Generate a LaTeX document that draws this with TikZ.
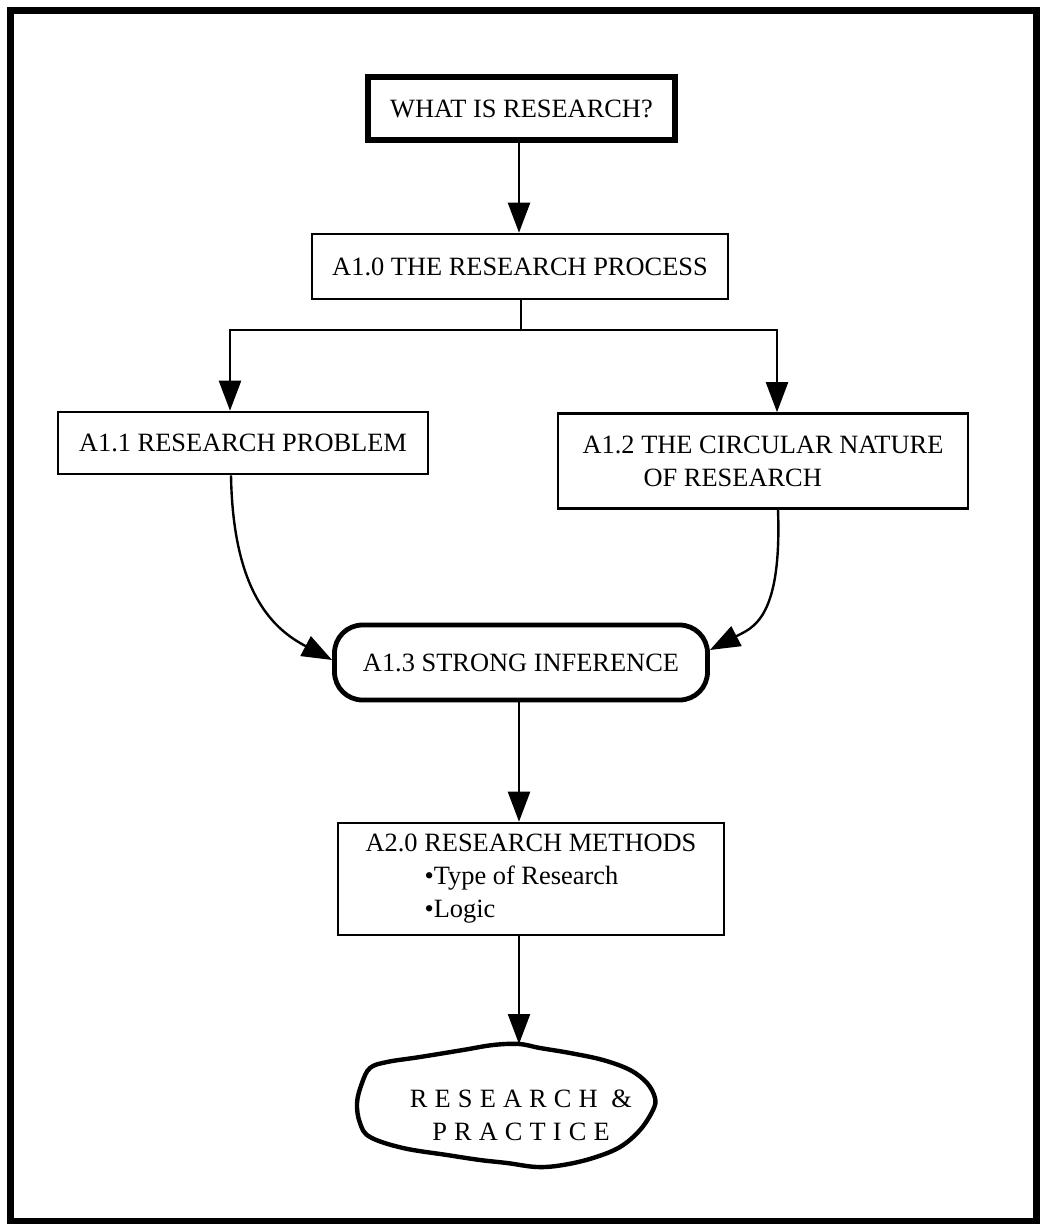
\documentclass[tikz,border=0pt]{standalone}
\usepackage{fontspec}
\setmainfont{Liberation Serif}
\newfontfamily\spacedfont[LetterSpace=27]{Liberation Serif}
\usetikzlibrary{arrows.meta,calc}

\begin{document}
\begin{tikzpicture}[x=0.5pt,y=-0.5pt,
  every node/.style={font=\fontsize{13.2}{16.5}\selectfont, inner sep=0pt},
  thinbox/.style={draw, line width=1.3pt},
  heavybox/.style={draw, line width=2.6pt},
  roundbox/.style={draw, line width=2.4pt, rounded corners=14pt},
  link/.style={line width=1.2pt},
  arr/.style={link, -{Triangle[length=15pt,width=11pt]}}
]
\useasboundingbox (0,0) rectangle (1040,1224);

% outer frame
\draw[line width=3.5pt] (10,11) rectangle (1036,1221);

% guide columns for the connectors
\coordinate (colm) at (519,0);
\coordinate (coll) at (230,0);
\coordinate (colr) at (777,0);
\coordinate (split) at (521,330);
\coordinate (cloudtop) at (519,1044);

% boxes
\node[heavybox, minimum width=153.5pt, minimum height=31.5pt] (what) at (521.5,108.5) {WHAT IS RESEARCH?};
\node[thinbox, minimum width=208pt, minimum height=32.5pt] (a10) at (520,266.5) {A1.0 THE RESEARCH PROCESS};
\node[thinbox, minimum width=185pt, minimum height=31pt] (a11) at (243,443) {A1.1 RESEARCH PROBLEM};
\node[thinbox, minimum width=205pt, minimum height=47.5pt, align=left] (a12) at (763,461)
  {A1.2 THE CIRCULAR NATURE\\\hspace*{30.5pt}OF RESEARCH};
\node[roundbox, minimum width=186.5pt, minimum height=37.5pt] (a13) at (521,662.5) {A1.3 STRONG INFERENCE};
\node[thinbox, minimum width=193pt, minimum height=56pt, align=left] (a20) at (531,879)
  {A2.0 RESEARCH METHODS\\\hspace*{29.5pt}•Type of Research\\\hspace*{29.5pt}•Logic};

% closing blob
\draw[line width=2.2pt] plot[smooth cycle, tension=0.6] coordinates {
  (519,1044) (540,1048) (570,1053) (603,1060) (630,1070) (647,1083)
  (655,1098) (653,1110) (640,1130) (620,1147) (593,1158) (563,1165)
  (537,1167) (507,1163) (480,1160) (447,1155) (403,1148) (370,1137)
  (360,1123) (357,1103) (362,1083) (370,1068) (387,1062) (420,1057)
  (463,1050) (493,1045)};
\node[font={\fontsize{13.2}{16.5}\selectfont\spacedfont}, align=center] (cloud) at (521,1115)
  {RESEARCH \&\\PRACTICE};

% connectors
\draw[arr] (what.south -| colm) -- (a10.north -| colm);
\draw[link] (a10.south -| split) -- (split);
\draw[arr] (split) -| (a11.north -| coll);
\draw[arr] (split) -| (a12.north -| colr);
\draw[arr] ($(a11.south)+(-6pt,0)$) .. controls (233,595) and (275,630) .. ([yshift=1.25pt]a13.west);
\draw[arr] ($(a12.south)+(7.5pt,0)$) .. controls (782,620) and (752,628) .. ([yshift=6.25pt]a13.east);
\draw[arr] (a13.south -| colm) -- (a20.north -| colm);
\draw[arr] (a20.south -| colm) -- (cloudtop);
\end{tikzpicture}
\end{document}
